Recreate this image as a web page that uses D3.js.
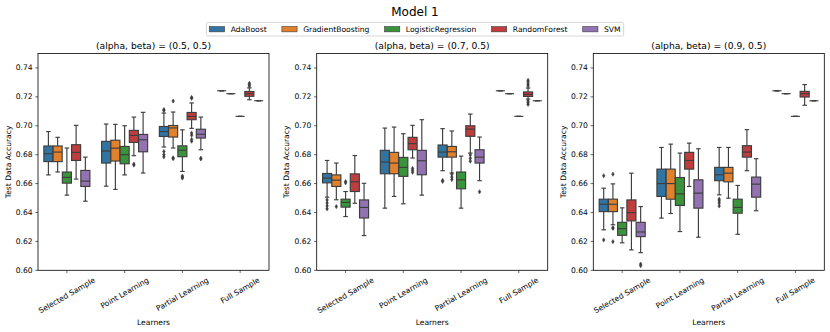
<!DOCTYPE html>
<html>
<head>
<meta charset="utf-8">
<script src="https://cdn.jsdelivr.net/npm/d3@7"></script>
<style>
  body { margin: 0; background: #fff; }
  text { font-family: "DejaVu Sans", sans-serif; fill: #000; }
</style>
</head>
<body>
<svg id="chart" width="830" height="332"></svg>
<script>
const learners = ['Selected Sample', 'Point Learning', 'Partial Learning', 'Full Sample'];
const models = ['AdaBoost', 'GradientBoosting', 'LogisticRegression', 'RandomForest', 'SVM'];
const colors = ['#3274a1', '#e1812c', '#3a923a', '#c03d3e', '#9372b2'];
const panelTitles = ['(alpha, beta) = (0.5, 0.5)', '(alpha, beta) = (0.7, 0.5)', '(alpha, beta) = (0.9, 0.5)'];
const yTicks = [0.60, 0.62, 0.64, 0.66, 0.68, 0.70, 0.72, 0.74];

// [learner, model, whisker low, q1, median, q3, whisker high, outliers]
const boxes05 = [
  ['Selected Sample', 'AdaBoost', 0.666, 0.6752, 0.6806, 0.686, 0.696, []],
  ['Selected Sample', 'GradientBoosting', 0.668, 0.6752, 0.6818, 0.686, 0.692, []],
  ['Selected Sample', 'LogisticRegression', 0.652, 0.6603, 0.6643, 0.668, 0.6846, []],
  ['Selected Sample', 'RandomForest', 0.6631, 0.676, 0.6816, 0.6869, 0.7003, []],
  ['Selected Sample', 'SVM', 0.6478, 0.658, 0.6617, 0.6691, 0.6783, []],
  ['Point Learning', 'AdaBoost', 0.6582, 0.6742, 0.6825, 0.6892, 0.7012, []],
  ['Point Learning', 'GradientBoosting', 0.656, 0.6756, 0.6845, 0.690, 0.701, []],
  ['Point Learning', 'LogisticRegression', 0.666, 0.6737, 0.680, 0.6857, 0.700, []],
  ['Point Learning', 'RandomForest', 0.6793, 0.6885, 0.6933, 0.6968, 0.706, [0.6728, 0.6735]],
  ['Point Learning', 'SVM', 0.6673, 0.682, 0.6903, 0.694, 0.7093, []],
  ['Partial Learning', 'AdaBoost', 0.6853, 0.6926, 0.696, 0.6995, 0.7088, [0.7105, 0.7112, 0.6822, 0.680, 0.6785]],
  ['Partial Learning', 'GradientBoosting', 0.6846, 0.6922, 0.6985, 0.7002, 0.7095, [0.7171, 0.6778, 0.6772]],
  ['Partial Learning', 'LogisticRegression', 0.6684, 0.6786, 0.6831, 0.6861, 0.6972, [0.6652, 0.6645, 0.6638]],
  ['Partial Learning', 'RandomForest', 0.6982, 0.7042, 0.7065, 0.7092, 0.7158, [0.7196, 0.7190, 0.6950, 0.6935, 0.6905, 0.6893]],
  ['Partial Learning', 'SVM', 0.6834, 0.6915, 0.6941, 0.6976, 0.706, [0.6776, 0.677]],
  ['Full Sample', 'AdaBoost', 0.7242, 0.7242, 0.7242, 0.7242, 0.7242, []],
  ['Full Sample', 'GradientBoosting', 0.7222, 0.7222, 0.7222, 0.7222, 0.7222, []],
  ['Full Sample', 'LogisticRegression', 0.7065, 0.7065, 0.7065, 0.7065, 0.7065, []],
  ['Full Sample', 'RandomForest', 0.718, 0.7204, 0.7222, 0.7237, 0.7262, [0.7275, 0.7285, 0.7294]],
  ['Full Sample', 'SVM', 0.7173, 0.7173, 0.7173, 0.7173, 0.7173, []]
];

const boxes07 = [
  ['Selected Sample', 'AdaBoost', 0.6506, 0.6605, 0.6638, 0.667, 0.676, [0.6487, 0.6465, 0.6445, 0.6425]],
  ['Selected Sample', 'GradientBoosting', 0.6488, 0.658, 0.6624, 0.666, 0.6742, [0.6441]],
  ['Selected Sample', 'LogisticRegression', 0.6372, 0.6437, 0.647, 0.6492, 0.6545, [0.6614, 0.6605]],
  ['Selected Sample', 'RandomForest', 0.6464, 0.6545, 0.6612, 0.6667, 0.6794, []],
  ['Selected Sample', 'SVM', 0.624, 0.6362, 0.6435, 0.6487, 0.6602, []],
  ['Point Learning', 'AdaBoost', 0.643, 0.6668, 0.6749, 0.683, 0.6984, []],
  ['Point Learning', 'GradientBoosting', 0.6511, 0.6668, 0.6742, 0.6816, 0.6991, []],
  ['Point Learning', 'LogisticRegression', 0.646, 0.665, 0.6712, 0.6781, 0.6945, []],
  ['Point Learning', 'RandomForest', 0.6777, 0.6834, 0.6876, 0.692, 0.7003, [0.6705, 0.6692, 0.6678]],
  ['Point Learning', 'SVM', 0.652, 0.6661, 0.6758, 0.683, 0.7042, []],
  ['Partial Learning', 'AdaBoost', 0.6689, 0.6783, 0.6818, 0.6867, 0.698, [0.6622, 0.6615]],
  ['Partial Learning', 'GradientBoosting', 0.6673, 0.6783, 0.682, 0.6857, 0.6964, [0.6665, 0.6645, 0.6628]],
  ['Partial Learning', 'LogisticRegression', 0.643, 0.6564, 0.6626, 0.668, 0.679, []],
  ['Partial Learning', 'RandomForest', 0.6811, 0.6927, 0.6977, 0.700, 0.7081, [0.6798, 0.6775, 0.6755]],
  ['Partial Learning', 'SVM', 0.662, 0.6742, 0.6783, 0.6834, 0.6922, [0.6543]],
  ['Full Sample', 'AdaBoost', 0.7242, 0.7242, 0.7242, 0.7242, 0.7242, []],
  ['Full Sample', 'GradientBoosting', 0.7222, 0.7222, 0.7222, 0.7222, 0.7222, []],
  ['Full Sample', 'LogisticRegression', 0.7065, 0.7065, 0.7065, 0.7065, 0.7065, []],
  ['Full Sample', 'RandomForest', 0.7185, 0.7203, 0.7217, 0.7234, 0.7261, [0.7275, 0.7288, 0.7302, 0.7315, 0.7172, 0.7160, 0.7148]],
  ['Full Sample', 'SVM', 0.7173, 0.7173, 0.7173, 0.7173, 0.7173, []]
];

const boxes09 = [
  ['Selected Sample', 'AdaBoost', 0.628, 0.6406, 0.6457, 0.6492, 0.6568, [0.6654, 0.621]],
  ['Selected Sample', 'GradientBoosting', 0.6315, 0.6406, 0.6457, 0.6492, 0.6598, [0.6665, 0.6295, 0.629, 0.6198]],
  ['Selected Sample', 'LogisticRegression', 0.619, 0.6242, 0.6288, 0.6332, 0.6432, []],
  ['Selected Sample', 'RandomForest', 0.6141, 0.6342, 0.6399, 0.6487, 0.6672, []],
  ['Selected Sample', 'SVM', 0.6122, 0.6233, 0.6265, 0.6332, 0.6441, [0.6043, 0.6032]],
  ['Point Learning', 'AdaBoost', 0.6361, 0.6511, 0.660, 0.670, 0.685, []],
  ['Point Learning', 'GradientBoosting', 0.6393, 0.6492, 0.660, 0.670, 0.6873, []],
  ['Point Learning', 'LogisticRegression', 0.6268, 0.6449, 0.6529, 0.6642, 0.6811, []],
  ['Point Learning', 'RandomForest', 0.658, 0.670, 0.676, 0.6816, 0.688, []],
  ['Point Learning', 'SVM', 0.6229, 0.643, 0.6534, 0.6626, 0.6841, []],
  ['Partial Learning', 'AdaBoost', 0.6522, 0.662, 0.6661, 0.6712, 0.685, [0.6492, 0.648, 0.6465, 0.6445]],
  ['Partial Learning', 'GradientBoosting', 0.6499, 0.6612, 0.6672, 0.6712, 0.685, []],
  ['Partial Learning', 'LogisticRegression', 0.6249, 0.6395, 0.6435, 0.6492, 0.6587, []],
  ['Partial Learning', 'RandomForest', 0.6689, 0.6783, 0.6818, 0.6862, 0.6973, []],
  ['Partial Learning', 'SVM', 0.6412, 0.6506, 0.6596, 0.6645, 0.6772, []],
  ['Full Sample', 'AdaBoost', 0.7242, 0.7242, 0.7242, 0.7242, 0.7242, []],
  ['Full Sample', 'GradientBoosting', 0.7222, 0.7222, 0.7222, 0.7222, 0.7222, []],
  ['Full Sample', 'LogisticRegression', 0.7065, 0.7065, 0.7065, 0.7065, 0.7065, []],
  ['Full Sample', 'RandomForest', 0.7142, 0.7199, 0.7222, 0.7238, 0.7285, []],
  ['Full Sample', 'SVM', 0.7173, 0.7173, 0.7173, 0.7173, 0.7173, []]
];

const panels = [boxes05, boxes07, boxes09];

const svg = d3.select('#chart');
svg.append('rect').attr('width', 830).attr('height', 332).attr('fill', '#fff');

const gray = '#3d3d3d';
const tickFont = 7.6;
const panelLefts = [38, 316.7, 593.3];
const panelW = 231;
const plotTop = 53.5, plotBottom = 270.3;

const y = d3.scaleLinear().domain([0.60, 0.75]).range([plotBottom, plotTop]);
const x = d3.scaleBand().domain(learners).range([0, panelW]);
const hue = d3.scaleBand().domain(models).range([-0.4 * x.bandwidth(), 0.4 * x.bandwidth()]);
const color = d3.scaleOrdinal().domain(models).range(colors);
const boxW = hue.bandwidth() * 0.98;

// suptitle
svg.append('text')
  .attr('x', 415).attr('y', 12)
  .attr('text-anchor', 'middle').attr('dominant-baseline', 'central')
  .style('font-size', '12px')
  .text('Model 1');

panels.forEach((rows, pi) => {
  const g = svg.append('g').attr('transform', `translate(${panelLefts[pi]},0)`);

  // y axis ticks and labels
  g.selectAll('.ytick').data(yTicks).join('line')
    .attr('x1', -2.7).attr('x2', 0)
    .attr('y1', d => y(d)).attr('y2', d => y(d))
    .attr('stroke', '#000').attr('stroke-width', 0.6);
  g.selectAll('.ylab').data(yTicks).join('text')
    .attr('x', -5.4).attr('y', d => y(d))
    .attr('text-anchor', 'end').attr('dominant-baseline', 'central')
    .style('font-size', tickFont + 'px')
    .text(d => d3.format('.2f')(d));

  // x axis ticks
  g.selectAll('.xtick').data(learners).join('line')
    .attr('x1', d => x(d) + x.bandwidth() / 2).attr('x2', d => x(d) + x.bandwidth() / 2)
    .attr('y1', plotBottom).attr('y2', plotBottom + 2.7)
    .attr('stroke', '#000').attr('stroke-width', 0.6);

  // rotated x tick labels, box top sits just under the ticks
  learners.forEach(l => {
    const t = g.append('text')
      .attr('text-anchor', 'middle').attr('dominant-baseline', 'central')
      .style('font-size', tickFont + 'px')
      .text(l);
    const w = t.node().getComputedTextLength();
    const h = tickFont * 1.17;
    const H = w * 0.5 + h * 0.866;
    t.attr('transform', `translate(${x(l) + x.bandwidth() / 2},${plotBottom + 5.4 + H / 2}) rotate(-30)`);
  });

  // axis labels and title
  g.append('text')
    .attr('x', panelW / 2).attr('y', 324.5)
    .attr('text-anchor', 'middle')
    .style('font-size', tickFont + 'px')
    .text('Learners');
  g.append('text')
    .attr('transform', `translate(-27.5,${(plotTop + plotBottom) / 2}) rotate(-90)`)
    .attr('text-anchor', 'middle')
    .style('font-size', tickFont + 'px')
    .text('Test Data Accuracy');
  g.append('text')
    .attr('x', panelW / 2).attr('y', plotTop - 4.8)
    .attr('text-anchor', 'middle')
    .style('font-size', '9.2px')
    .text(panelTitles[pi]);

  // boxes
  rows.forEach(([learner, model, lo, q1, med, q3, hi, outliers]) => {
    const cx = x(learner) + x.bandwidth() / 2 + hue(model) + hue.bandwidth() / 2;
    const b = g.append('g');
    b.append('line').attr('x1', cx).attr('x2', cx).attr('y1', y(q3)).attr('y2', y(hi))
      .attr('stroke', gray).attr('stroke-width', 1.15);
    b.append('line').attr('x1', cx).attr('x2', cx).attr('y1', y(q1)).attr('y2', y(lo))
      .attr('stroke', gray).attr('stroke-width', 1.15);
    [lo, hi].forEach(v => {
      b.append('line').attr('x1', cx - boxW / 4).attr('x2', cx + boxW / 4)
        .attr('y1', y(v)).attr('y2', y(v))
        .attr('stroke', gray).attr('stroke-width', 1.15);
    });
    b.append('rect')
      .attr('x', cx - boxW / 2).attr('width', boxW)
      .attr('y', y(q3)).attr('height', y(q1) - y(q3))
      .attr('fill', color(model)).attr('stroke', gray).attr('stroke-width', 1.15);
    b.append('line').attr('x1', cx - boxW / 2).attr('x2', cx + boxW / 2)
      .attr('y1', y(med)).attr('y2', y(med))
      .attr('stroke', gray).attr('stroke-width', 1.15);
    b.selectAll('path').data(outliers).join('path')
      .attr('d', 'M0,-2.1L1.3,0L0,2.1L-1.3,0Z')
      .attr('transform', d => `translate(${cx},${y(d)})`)
      .attr('fill', gray).attr('stroke', gray).attr('stroke-width', 0.5);
  });

  // frame
  g.append('rect')
    .attr('x', 0).attr('y', plotTop).attr('width', panelW).attr('height', plotBottom - plotTop)
    .attr('fill', 'none').attr('stroke', '#000').attr('stroke-width', 0.8);
});

// legend
const leg = svg.append('g');
const pad = 3.04, handleW = 15.2, handleH = 5.3, textPad = 6.08, colGap = 15.2;
let cursor = pad;
const legY = 29.2;
const items = models.map(m => {
  const t = leg.append('text')
    .attr('dominant-baseline', 'central')
    .attr('y', legY)
    .style('font-size', tickFont + 'px')
    .text(m);
  const w = t.node().getComputedTextLength();
  const item = { m, t, x: cursor };
  cursor += handleW + textPad + w + colGap;
  return item;
});
const legW = cursor - colGap + pad;
const legX = 415 - legW / 2;
leg.insert('rect', ':first-child')
  .attr('x', legX).attr('y', 22.4).attr('width', legW).attr('height', 13.6)
  .attr('rx', 1.5)
  .attr('fill', '#fff').attr('stroke', '#cccccc').attr('stroke-width', 0.8);
items.forEach(it => {
  leg.append('rect')
    .attr('x', legX + it.x).attr('y', legY - handleH / 2)
    .attr('width', handleW).attr('height', handleH)
    .attr('fill', color(it.m)).attr('stroke', gray).attr('stroke-width', 0.6);
  it.t.attr('x', legX + it.x + handleW + textPad);
});
</script>
</body>
</html>
